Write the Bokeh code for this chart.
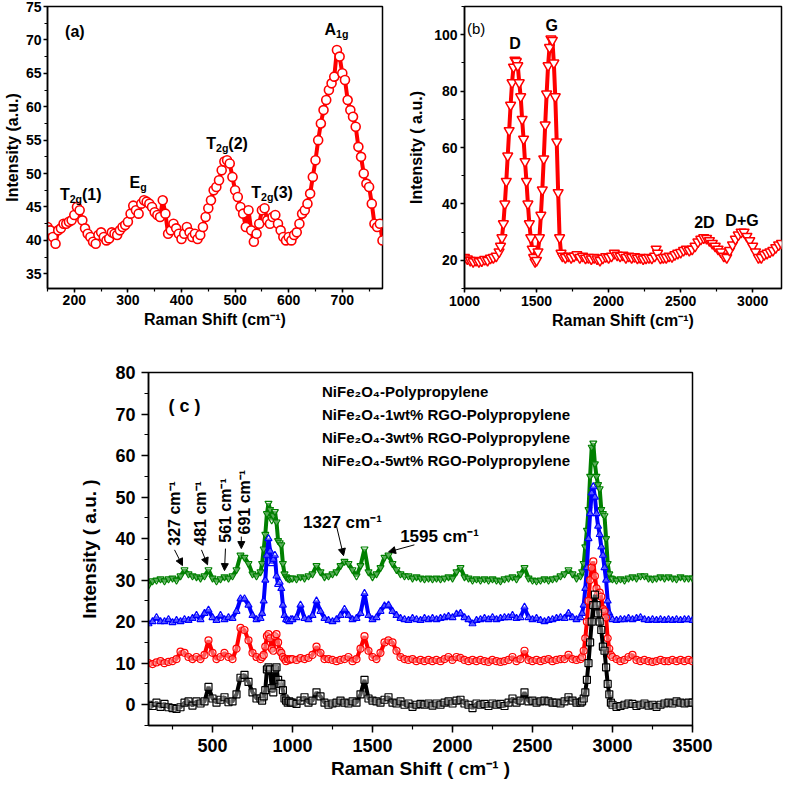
import math
from bokeh.plotting import figure
from bokeh.layouts import column, row
from bokeh.models import Range1d, Label, Arrow, NormalHead, Legend, LegendItem, FixedTicker
from bokeh.embed import file_html
from bokeh.resources import INLINE

FONT = "Liberation Sans"

# ---------------- panel (a): NiFe2O4 ----------------
A_SHIFT = [150,155,160,165,170,175,180,185,190,195,200,205,210,215,220,225,230,235,240,245,
           250,255,260,265,270,275,280,285,290,295,300,305,310,315,320,325,330,335,340,345,
           350,355,360,365,370,375,380,385,390,395,400,405,410,415,420,425,430,435,440,445,
           450,455,460,465,470,475,480,485,490,495,500,505,510,515,520,525,530,535,540,545,
           550,555,560,565,570,575,580,585,590,595,600,605,610,615,620,625,630,635,640,645,
           650,655,660,665,670,675,680,685,690,695,700,705,710,715,720,725,730,735,740,745,
           750,755,760,765,770,775]
A_INT = [42.0,41.5,40.5,39.5,41.5,41.8,42.5,42.5,42.8,43.0,43.8,45.0,44.5,43.0,41.8,41.0,40.5,39.8,39.5,40.8,
         41.2,40.5,40.0,40.3,41.2,41.0,40.8,41.5,42.0,42.3,42.8,44.0,45.2,44.5,44.0,45.5,46.0,45.8,45.5,45.0,
         44.2,43.8,43.5,46.0,44.0,41.0,41.5,42.5,41.8,41.0,40.2,41.0,42.0,41.2,40.5,41.0,40.2,40.8,42.0,43.5,
         44.8,46.0,47.5,48.0,49.0,50.5,51.8,52.0,51.5,49.5,47.5,46.5,45.0,44.0,42.0,44.5,41.5,39.8,41.0,42.5,
         44.5,44.8,43.0,42.5,43.5,43.8,42.5,41.5,40.5,40.0,40.5,40.0,40.8,41.2,42.5,44.0,44.5,45.5,47.0,49.5,
         52.0,55.0,57.5,59.5,61.0,62.5,63.5,64.5,68.5,67.5,65.0,64.0,61.0,59.5,58.5,57.0,54.0,52.5,50.0,48.5,
         48.0,45.5,42.5,42.0,42.5,40.0]

# ---------------- panel (b): RGO ----------------
B_SHIFT = [1000,1020,1040,1060,1080,1100,1120,1140,1160,1180,1200,1220,1240,
           1250,1260,1270,1280,1290,1300,1310,1320,1330,1340,1350,1360,1370,1380,1390,1400,1410,1420,
           1430,1440,1450,1460,1470,1480,1490,1500,1510,1520,1530,1540,1550,1560,1570,1580,1590,1600,
           1610,1620,1630,1640,1650,1660,1670,1680,
           1700,1720,1740,1760,1780,1800,1820,1840,1860,1880,1900,1920,1940,1960,1980,2000,2020,2040,
           2060,2080,2100,2120,2140,2160,2180,2200,2220,2240,2260,2280,2300,2320,2330,2340,
           2360,2380,2400,2420,2440,2460,2480,2500,2520,2540,2560,2580,2600,2620,2640,2660,2680,2700,
           2720,2740,2760,2780,2800,2820,2840,2860,2880,2900,2920,2940,2960,2980,3000,3020,3040,3060,
           3080,3100,3120,3140,3160,3180,3200]
B_INT = [21.0,20.5,20.0,19.5,20.0,19.5,19.8,20.3,20.0,20.8,21.0,21.5,23.0,
         25.0,28.0,33.0,40.0,48.0,57.0,66.0,75.0,83.0,88.5,91.0,90.5,89.0,83.0,78.0,70.0,63.0,55.0,
         48.0,40.0,33.0,28.0,24.0,21.0,19.5,20.0,23.0,28.0,36.0,45.0,56.0,68.0,79.0,89.0,95.5,98.5,
         98.0,90.0,78.0,62.0,44.0,28.0,22.5,21.5,
         21.0,21.5,21.0,21.5,22.0,21.0,21.5,20.8,21.0,20.5,21.0,20.5,20.0,20.8,21.3,21.0,21.5,22.5,
         21.8,21.5,21.8,21.0,21.5,21.0,21.3,20.8,21.0,20.5,20.8,21.0,20.8,21.5,24.0,22.5,
         20.8,21.0,21.0,21.5,21.3,22.0,22.5,22.8,23.5,24.0,23.5,24.0,25.0,26.5,27.5,28.0,27.8,27.0,
         26.0,25.0,24.0,23.0,21.5,21.0,23.5,25.5,27.5,29.0,30.0,30.0,28.5,27.0,25.0,23.0,21.0,21.0,
         22.0,22.5,23.0,23.5,24.5,25.5,26.0]

# ---------------- panel (c): composites ----------------
C_SHIFT = [100,125,150,175,200,225,250,275,300,325,350,375,400,425,450,475,500,525,550,575,600,625,650,675,700,725,750,775,
           800,810,820,830,840,850,860,870,880,890,900,910,920,930,940,950,960,970,980,990,
           1000,1025,1050,1075,1100,1125,1150,1175,1200,1225,1250,1275,1300,1325,1350,1375,1400,1425,1450,1475,
           1500,1525,1550,1575,1600,1625,1650,1675,1700,1725,1750,1775,1800,1825,1850,1875,1900,1925,1950,1975,
           2000,2025,2050,2075,2100,2125,2150,2175,2200,2225,2250,2275,2300,2325,2350,2375,2400,2425,2450,2475,
           2500,2525,2550,2575,2600,2625,2650,2675,2700,2725,2750,2775,
           2800,2810,2820,2830,2840,2850,2860,2870,2880,2890,2900,2910,2920,2930,2940,2950,2960,2970,2980,2990,3000,
           3025,3050,3075,3100,3125,3150,3175,3200,3225,3250,3275,3300,3325,3350,3375,3400,3425,3450,3475,3500]

C_PP = [0.0,-0.3,0.5,-0.5,0.2,-0.6,-0.8,-1.0,-0.6,0.5,0.8,-0.2,0.8,0.3,0.8,4.3,1.5,0.5,1.2,1.8,0.6,0.8,2.5,6.5,7.2,5.5,3.0,1.5,
        1.5,1.0,2.0,3.5,8.5,9.0,8.5,4.0,3.0,8.5,9.0,6.0,5.0,5.0,3.5,1.5,1.0,0.5,0.8,0.5,
        0.5,0.2,1.0,1.8,0.5,1.0,3.0,2.0,0.5,0.0,0.3,0.5,1.0,0.5,0.3,0.8,0.5,2.5,6.0,1.5,
        1.0,0.8,0.5,1.2,1.8,0.5,0.3,0.8,0.0,0.3,-0.5,0.0,0.2,0.0,0.3,-0.2,0.3,0.0,0.5,0.8,
        0.3,1.0,1.2,0.3,0.0,-0.8,0.3,0.0,0.2,-0.3,0.3,0.0,0.2,-0.3,0.5,1.5,0.5,1.0,3.0,0.8,
        1.0,0.5,0.8,1.0,0.8,0.5,0.5,0.3,0.8,1.8,1.0,0.5,
        0.5,0.8,1.5,3.0,6.0,10.0,15.0,20.0,24.0,26.5,24.0,22.0,20.0,18.0,14.0,13.0,9.0,5.0,2.5,0.5,0.0,
        -0.5,-0.3,0.0,0.3,0.2,-0.3,0.0,0.3,-0.2,0.0,-0.5,0.0,0.3,0.5,0.3,0.8,0.5,0.3,0.5,0.5]

C_RGO1 = [10.0,9.8,10.2,10.5,10.0,10.3,10.5,11.0,12.8,12.5,11.5,11.0,11.5,11.0,12.0,15.5,12.5,11.0,11.5,12.5,11.5,11.0,13.5,18.5,18.0,15.5,12.5,11.5,
          11.0,11.5,12.0,14.0,16.5,17.0,16.0,13.5,13.0,16.5,17.0,15.0,13.0,12.5,11.5,11.0,10.5,11.0,10.8,11.0,
          11.0,10.8,11.2,11.0,11.3,12.0,14.0,12.5,11.0,11.0,10.8,10.5,10.8,11.0,11.5,10.5,11.0,13.5,16.5,13.0,
          11.5,11.0,12.5,15.0,15.5,15.0,13.0,11.5,11.0,10.8,11.0,10.5,10.8,10.5,10.8,10.5,10.8,10.5,11.0,11.5,
          10.8,11.5,11.3,10.8,10.5,10.8,10.5,10.8,10.5,10.3,10.8,10.5,10.3,10.5,10.8,11.5,10.5,11.0,13.0,10.8,
          10.5,10.8,10.5,10.8,11.0,10.5,10.8,11.0,11.0,12.0,11.0,10.8,
          11.0,11.5,13.0,16.0,20.0,25.0,30.0,33.0,34.5,31.0,28.0,26.5,27.0,26.0,23.0,22.5,21.0,16.0,13.5,12.0,11.5,
          11.0,10.5,10.8,11.5,12.0,10.8,10.5,10.8,10.5,10.3,10.5,10.8,10.5,10.5,10.8,10.5,10.8,10.5,10.8,10.5]

C_RGO3 = [19.5,20.0,21.0,20.0,20.0,20.5,19.8,20.3,20.0,20.5,20.3,20.8,21.5,20.5,22.0,22.8,21.0,20.3,21.5,20.5,21.0,20.8,22.5,25.5,25.5,24.0,21.5,20.5,
          20.8,22.0,25.0,30.0,36.0,40.0,37.0,34.0,35.0,36.0,31.0,29.0,29.5,28.0,24.0,21.5,20.5,20.3,20.0,20.5,
          20.5,21.0,24.0,20.8,20.5,21.5,25.0,22.5,20.8,20.3,20.0,20.5,21.5,23.0,21.5,20.5,20.8,22.0,26.8,21.5,
          20.5,21.0,22.5,23.8,24.0,22.5,21.5,20.8,20.5,20.3,20.8,20.5,20.3,20.8,20.5,20.8,20.5,20.8,21.0,21.3,
          21.0,21.8,22.0,21.0,20.5,19.5,20.3,20.5,20.8,20.5,21.0,20.5,20.8,21.0,21.0,21.5,20.8,21.0,23.5,21.0,
          20.5,20.8,20.3,20.0,20.3,20.5,20.8,21.0,20.8,22.0,21.0,20.5,
          21.0,22.0,24.0,28.0,33.0,40.0,46.0,51.0,52.5,50.0,46.0,43.0,41.0,38.0,36.0,33.0,30.0,25.0,22.0,21.0,20.5,
          20.3,20.5,20.5,20.8,20.5,20.8,21.0,20.5,20.3,20.5,20.3,20.5,20.3,20.5,20.3,20.5,20.3,20.5,20.5,20.3]

C_RGO5 = [28.8,29.8,30.0,30.3,29.8,30.3,30.5,30.0,31.0,32.5,31.5,31.0,30.8,30.5,31.0,32.5,30.5,29.8,30.3,30.8,30.5,31.0,32.5,36.0,35.5,34.0,31.5,31.0,
          32.0,34.0,37.5,41.0,46.0,48.5,47.0,44.5,45.5,46.5,44.0,39.5,39.0,38.5,34.0,31.5,30.8,30.5,30.3,30.5,
          30.5,30.3,30.8,30.5,31.0,31.5,33.5,32.0,30.8,31.0,31.5,32.0,33.5,34.5,34.0,32.5,31.0,33.5,37.5,32.0,
          30.8,31.5,33.0,35.5,36.0,34.0,32.5,31.5,31.0,31.0,30.5,30.8,30.5,30.3,30.5,30.3,30.5,30.3,30.5,30.8,
          30.5,32.0,33.0,30.8,30.5,30.0,30.3,30.0,30.3,30.0,30.3,30.0,29.8,30.3,30.5,30.8,30.3,31.5,33.0,30.5,
          30.0,29.8,30.0,30.3,30.0,30.3,30.5,31.0,31.5,32.5,31.5,30.5,
          31.0,32.0,34.0,38.0,42.0,47.0,55.0,62.0,63.0,58.0,55.0,53.0,52.0,47.0,46.0,45.5,40.0,34.0,31.5,30.5,30.3,
          30.0,30.3,30.0,30.5,30.8,30.5,31.0,31.0,30.5,30.3,30.5,30.8,30.5,30.8,30.5,30.3,30.8,30.5,30.5,30.5]

SERIES_C = ["NiFe₂O₄-Polypropylene", "NiFe₂O₄-1wt% RGO-Polypropylene",
            "NiFe₂O₄-3wt% RGO-Polypropylene", "NiFe₂O₄-5wt% RGO-Polypropylene"]

# -------------- helpers --------------
W = {'T': .611, 'E': .667, 'A': .722, 'D': .722, 'G': .778, '(': .333, ')': .333, '1': .556,
     '2': .556, '3': .556, 'g': .611, ' ': .278, '+': .584, 'a': .556, 'b': .611, 'c': .556}


def tw(s, size):
    return sum(W.get(ch, 0.6) for ch in s) * size


def rich(p, x, y, pieces, size, bold=True):
    sizes = [size if k == 'n' else size * 0.66 for _, k in pieces]
    total = sum(tw(t, s) for (t, _), s in zip(pieces, sizes))
    off = -total / 2
    for (t, k), s in zip(pieces, sizes):
        dy = 0 if k == 'n' else (-size * 0.28 if k == 'sub' else size * 0.42)
        p.add_layout(Label(x=x, y=y, text=t, x_offset=off, y_offset=dy, text_font=FONT,
                           text_font_style="bold" if bold else "normal",
                           text_font_size=f"{s:.1f}px", text_align="left",
                           text_baseline="alphabetic", text_color="black"))
        off += tw(t, s)


def style(p, tick_px, title_px, xt, xm, yt, ym, tick_out, lab_sd, title_sd_x, title_sd_y):
    for ax in (p.xaxis[0], p.yaxis[0]):
        ax.axis_line_width = 1.5
        ax.major_tick_line_width = 1.5
        ax.minor_tick_line_width = 1.2
        ax.major_tick_out = tick_out
        ax.major_tick_in = 0
        ax.minor_tick_out = max(3, tick_out - 3)
        ax.minor_tick_in = 0
        ax.major_label_text_font = FONT
        ax.major_label_text_font_style = "bold"
        ax.major_label_text_font_size = f"{tick_px}px"
        ax.major_label_text_color = "black"
        ax.major_label_standoff = lab_sd
        ax.axis_label_text_font = FONT
        ax.axis_label_text_font_style = "bold"
        ax.axis_label_text_font_size = f"{title_px}px"
        ax.axis_label_text_color = "black"
    p.xaxis[0].axis_label_standoff = title_sd_x
    p.yaxis[0].axis_label_standoff = title_sd_y
    p.xaxis[0].ticker = FixedTicker(ticks=xt, minor_ticks=xm)
    p.yaxis[0].ticker = FixedTicker(ticks=yt, minor_ticks=ym)
    p.xgrid.visible = False
    p.ygrid.visible = False
    p.outline_line_color = "black"
    p.outline_line_width = 1.5
    p.outline_line_alpha = 1.0
    p.background_fill_color = "white"
    p.border_fill_color = "white"


# -------------- panel (a) --------------
pA = figure(width=400, height=360, x_range=Range1d(150, 775), y_range=Range1d(32.8, 75),
            output_backend="svg", toolbar_location=None,
            min_border_left=42, min_border_right=18, min_border_top=6, min_border_bottom=70,
            x_axis_label="Raman Shift (cm⁻¹)", y_axis_label="Intensity (a.u.)")
style(pA, 14, 16, list(range(200, 701, 100)), list(range(150, 776, 50)),
      list(range(35, 76, 5)), [32.5 + 2.5 * i for i in range(18)], 4, 2, 3, 2)
pA.line(A_SHIFT, A_INT, line_color="red", line_width=4)
pA.scatter(A_SHIFT, A_INT, marker="circle", size=9, line_color="red", line_width=1.6,
           fill_color="white")
rich(pA, 201, 71.3, [("(a)", 'n')], 16)
rich(pA, 212, 46.9, [("T", 'n'), ("2g", 'sub'), ("(1)", 'n')], 16)
rich(pA, 319, 48.7, [("E", 'n'), ("g", 'sub')], 16)
rich(pA, 485, 54.5, [("T", 'n'), ("2g", 'sub'), ("(2)", 'n')], 16)
rich(pA, 569, 47.1, [("T", 'n'), ("2g", 'sub'), ("(3)", 'n')], 16)
rich(pA, 689, 71.6, [("A", 'n'), ("1g", 'sub')], 16)

# -------------- panel (b) --------------
pB = figure(width=383, height=360, x_range=Range1d(1000, 3200), y_range=Range1d(10, 110),
            output_backend="svg", toolbar_location=None,
            min_border_left=64, min_border_right=2, min_border_top=5, min_border_bottom=72,
            x_axis_label="Raman Shift (cm⁻¹)", y_axis_label="Intensity ( a.u.)")
style(pB, 14, 16, list(range(1000, 3001, 500)), list(range(1000, 3201, 250)),
      list(range(20, 101, 20)), list(range(10, 111, 10)), 4, 3, 3, 6)
pB.line(B_SHIFT, B_INT, line_color="red", line_width=4)
pB.scatter(B_SHIFT, B_INT, marker="inverted_triangle", size=10, line_color="red", line_width=1.5,
           fill_color="white")
rich(pB, 1083, 102.2, [("(b)", 'n')], 15, bold=False)
rich(pB, 1351, 96.9, [("D", 'n')], 16)
rich(pB, 1605, 103.3, [("G", 'n')], 16)
rich(pB, 2665, 33.3, [("2D", 'n')], 16)
rich(pB, 2926, 34.0, [("D+G", 'n')], 16)

# -------------- panel (c) --------------
pC = figure(width=783, height=424, x_range=Range1d(100, 3500), y_range=Range1d(-5, 80),
            output_backend="svg", toolbar_location=None,
            min_border_left=148, min_border_right=91, min_border_top=12, min_border_bottom=59,
            x_axis_label="Raman Shift ( cm⁻¹ )", y_axis_label="Intensity ( a.u. )")
style(pC, 18, 19, list(range(500, 3501, 500)), list(range(250, 3501, 250)),
      list(range(0, 81, 10)), list(range(-5, 81, 5)), 7, 6, 3, 12)

specs = [(C_PP, "black", "square", "#808080"),
         (C_RGO1, "red", "circle", "red"),
         (C_RGO3, "blue", "triangle", "blue"),
         (C_RGO5, "#008000", "inverted_triangle", "#5aa55a")]
for ys, col, mk, _ in reversed(specs):
    pC.line(C_SHIFT, ys, line_color=col, line_width=4)
    pC.scatter(C_SHIFT, ys, marker=mk, size=7, line_color=col, line_width=1.2,
               fill_color="white", fill_alpha=0.35)

items = []
for name, (ys, col, mk, lcol) in zip(SERIES_C, specs):
    lr = pC.line(x=[], y=[], line_color=lcol, line_width=2)
    sr = pC.scatter(x=[], y=[], marker=mk, size=6, line_color=col, fill_color="white")
    items.append(LegendItem(label=name, renderers=[lr, sr]))
leg = Legend(items=items, location=(134, 255), padding=0, margin=0, spacing=3,
             label_height=20, glyph_height=20, glyph_width=32, label_standoff=8,
             label_text_font=FONT, label_text_font_style="bold", label_text_font_size="15px",
             label_text_color="black", border_line_alpha=0, background_fill_alpha=0)
pC.add_layout(leg)

rich(pC, 325, 72.0, [("( c )", 'n')], 18)

rot = [(262.5, 38.3, "327 cm⁻¹"), (425, 38.3, "481 cm⁻¹"),
       (581, 39.0, "561 cm⁻¹"), (700, 41.0, "691 cm⁻¹")]
for x, y, t in rot:
    pC.add_layout(Label(x=x, y=y, text=t, angle=math.pi / 2, text_font=FONT,
                        text_font_style="bold", text_font_size="16px",
                        text_align="left", text_baseline="middle", text_color="black"))
pC.add_layout(Label(x=1312, y=43.8, text="1327 cm⁻¹", text_font=FONT, text_font_style="bold",
                    text_font_size="17px", text_align="center", text_baseline="alphabetic",
                    text_color="black"))
pC.add_layout(Label(x=1919, y=40.5, text="1595 cm⁻¹", text_font=FONT, text_font_style="bold",
                    text_font_size="17px", text_align="center", text_baseline="alphabetic",
                    text_color="black"))

arrows = [(262.5, 37.3, 312.5, 33.5), (431, 37.3, 469, 33.7), (581, 37.6, 575, 32.3),
          (680, 40.5, 680, 37.6), (1275, 43.0, 1319, 35.9), (1762, 38.5, 1600, 36.8)]
for x0, y0, x1, y1 in arrows:
    pC.add_layout(Arrow(end=NormalHead(size=7, fill_color="black", line_color="black"),
                        x_start=x0, y_start=y0, x_end=x1, y_end=y1,
                        line_color="black", line_width=1))

layout = column(row(pA, pB), pC)
open("out.html", "w").write(file_html(layout, INLINE))
